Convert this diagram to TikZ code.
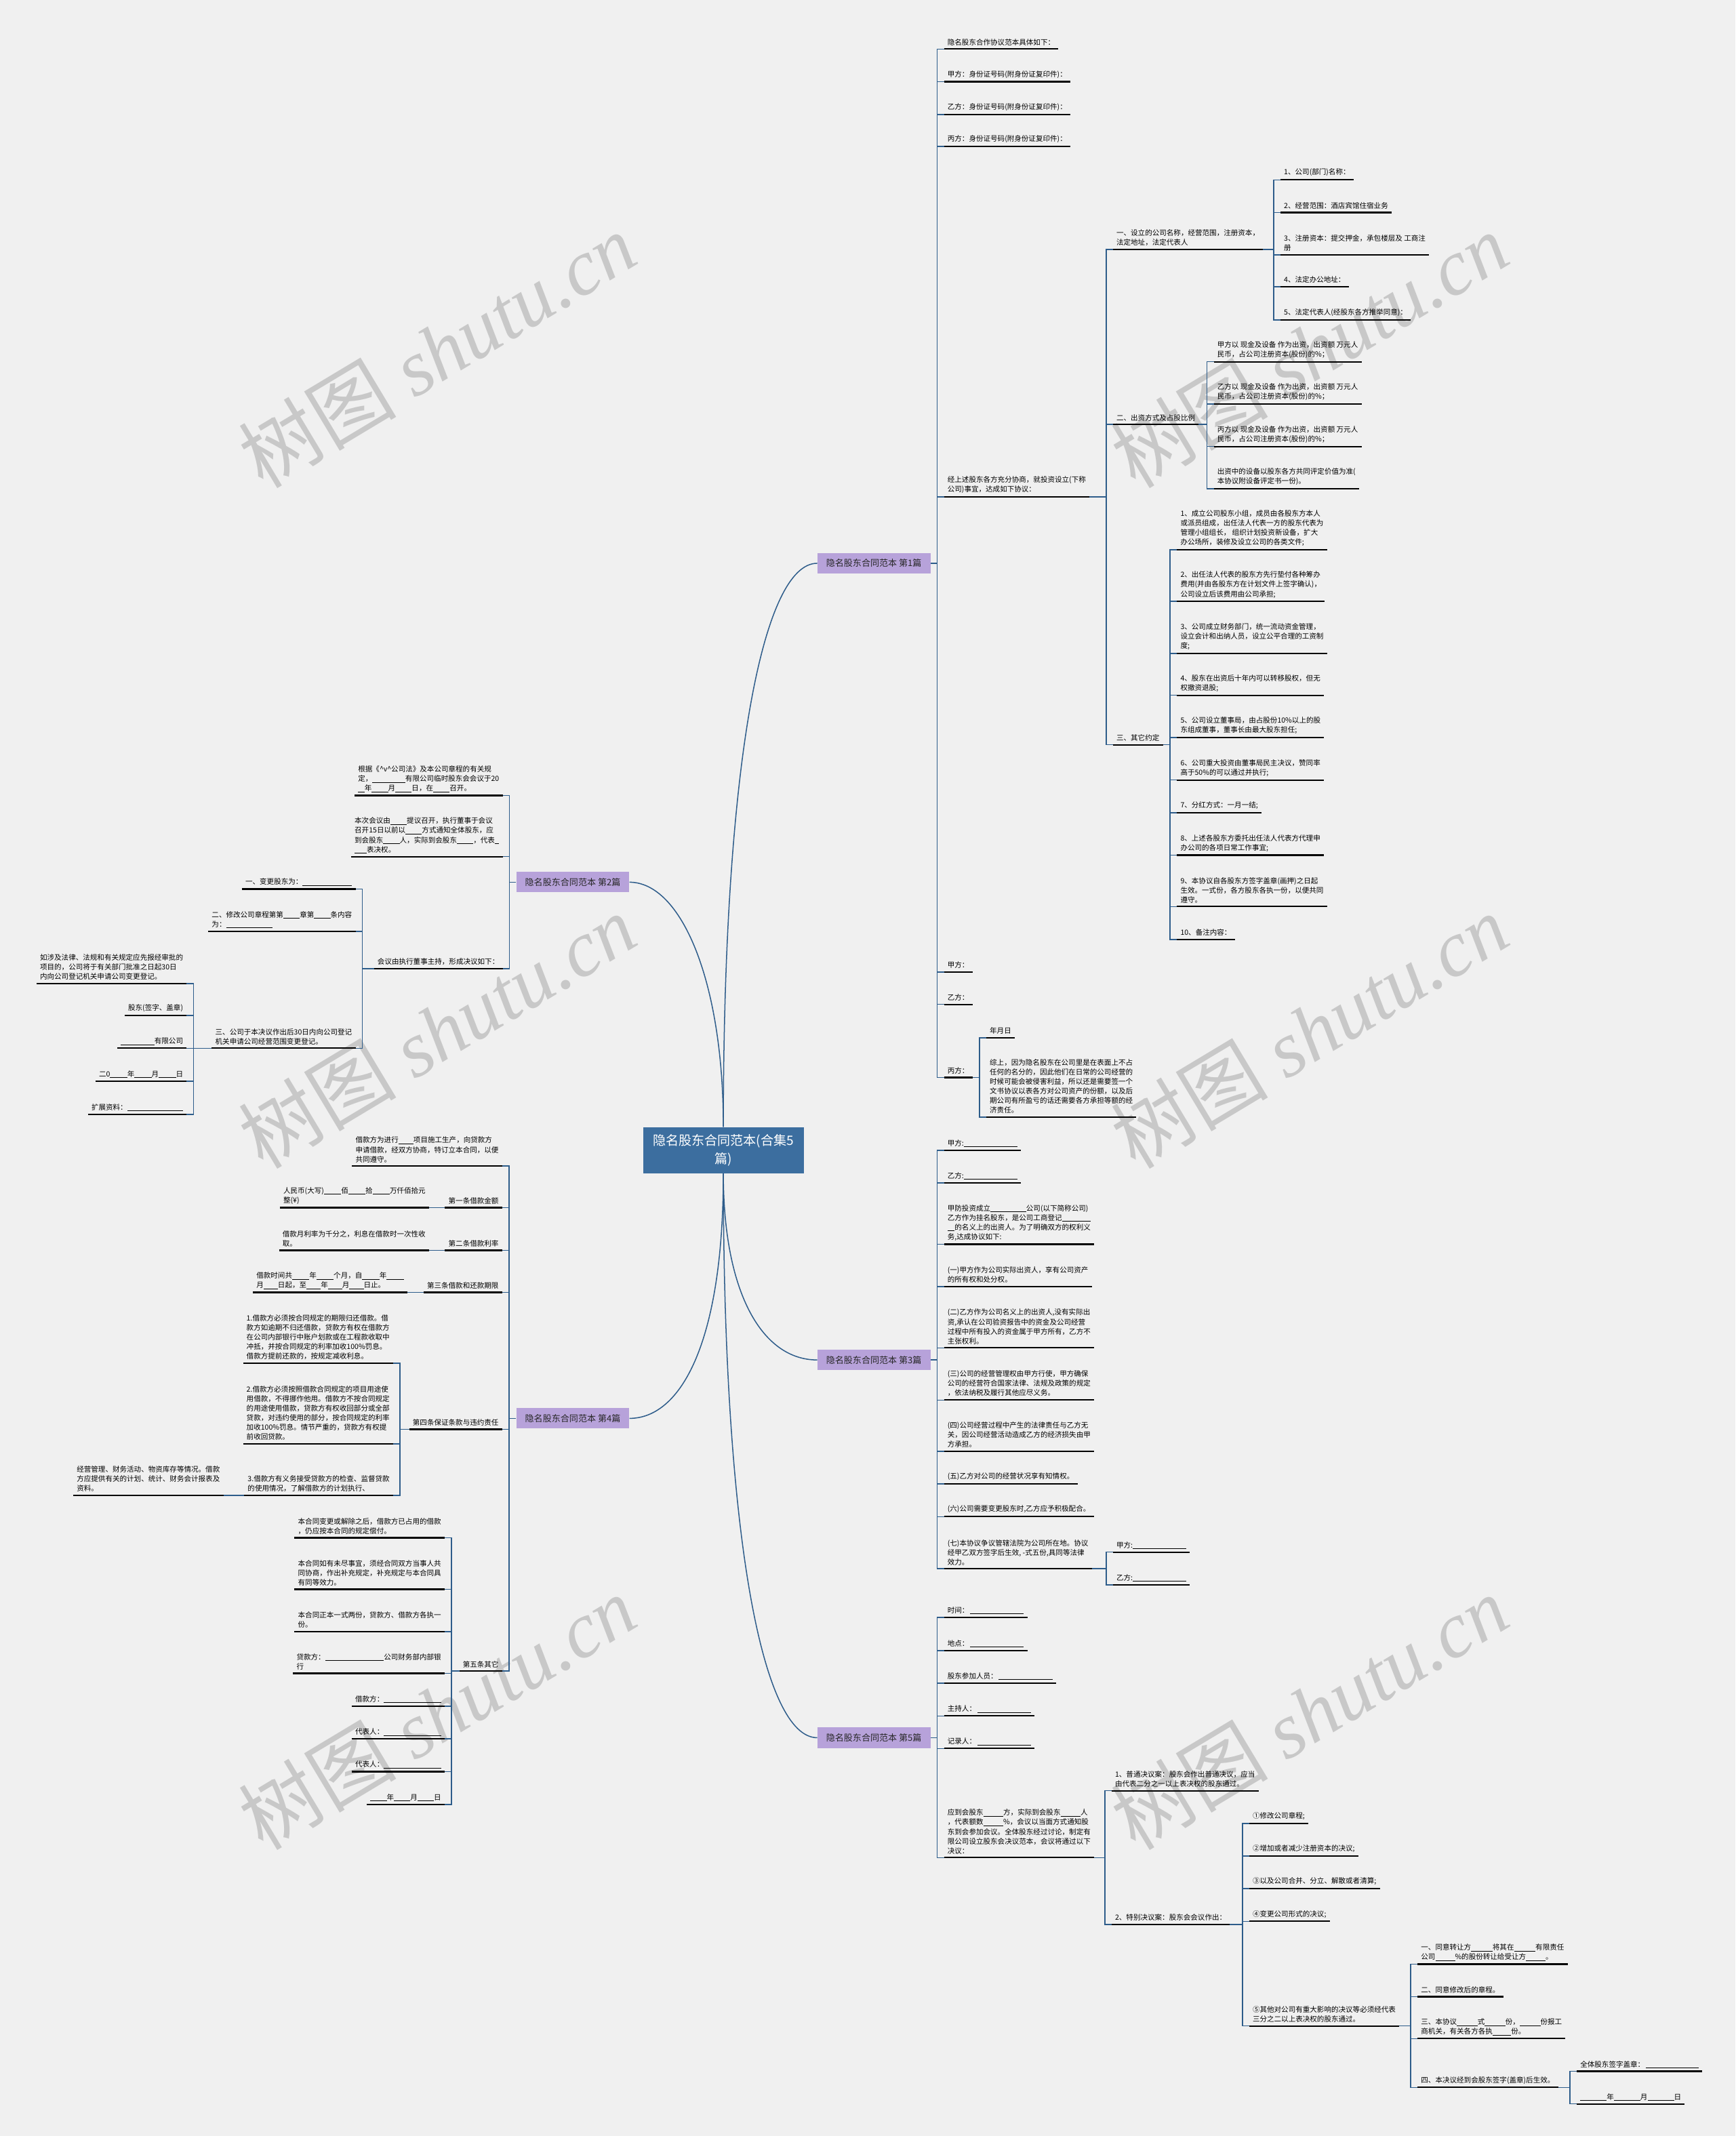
\documentclass[tikz,border=0pt]{standalone}
\usepackage{fontspec}
\setmainfont{Noto Sans CJK SC}
\newfontfamily\wmfont{Liberation Serif}
\usepackage{tikz}

\definecolor{bgcol}{HTML}{F0F0F0}
\definecolor{linkcol}{HTML}{2D5C8A}
\definecolor{rootcol}{HTML}{3C6E9F}
\definecolor{topiccol}{HTML}{B7A2DA}
\definecolor{wmcol}{HTML}{C8C8C8}
\newcommand{\bl}[1]{\rule[-1.3pt]{#1em}{0.5pt}}

\tikzset{
  uline/.style={draw=black, line width=2.2pt},
  link/.style={draw=linkcol, line width=1.5pt},
  leaf/.style={font=\fontsize{10.5pt}{14pt}\selectfont, align=left,
    inner xsep=5pt, inner ysep=5pt,
    append after command={(\tikzlastnode.south west) edge[uline] (\tikzlastnode.south east)}},
  rleaf/.style={leaf, anchor=south west},
  lleaf/.style={leaf, anchor=south east},
  topic/.style={fill=topiccol, text=black!85, inner sep=0pt,
    font=\fontsize{13pt}{16pt}\selectfont, minimum width=166pt, minimum height=30pt},
  rootbox/.style={fill=rootcol, text=white, align=center, inner sep=0pt,
    font=\fontsize{19pt}{27pt}\selectfont, minimum width=236pt, minimum height=68pt},
  wmark/.style={text=wmcol, rotate=31, font=\fontsize{116pt}{116pt}\selectfont}
}

\begin{document}
\begin{tikzpicture}[x=2pt, y=-2pt]
        \useasboundingbox (0,0) rectangle (1274,1568);
        \fill[bgcol] (0,0) rectangle (1274,1568);

        \node[wmark] (wm1) at (321,257) {树图 {\wmfont\itshape shutu.cn}};
        \node[wmark] (wm2) at (961,257) {树图 {\wmfont\itshape shutu.cn}};
        \node[wmark] (wm3) at (321,757) {树图 {\wmfont\itshape shutu.cn}};
        \node[wmark] (wm4) at (961,757) {树图 {\wmfont\itshape shutu.cn}};
        \node[wmark] (wm5) at (321,1257) {树图 {\wmfont\itshape shutu.cn}};
        \node[wmark] (wm6) at (961,1257) {树图 {\wmfont\itshape shutu.cn}};

        \node[rootbox] (R) at (531,844.3) {隐名股东合同范本(合集5\\篇)};
        \node[topic] (T1) at (641.5,413.5) {隐名股东合同范本 第1篇};
        \node[topic] (T2) at (420.5,647.6) {隐名股东合同范本 第2篇};
        \node[topic] (T3) at (641.5,998.3) {隐名股东合同范本 第3篇};
        \node[topic] (T4) at (420.5,1041.2) {隐名股东合同范本 第4篇};
        \node[topic] (T5) at (641.5,1275.6) {隐名股东合同范本 第5篇};

        \draw[link] (R.north) .. controls (531,560) and (560,413.5) .. (T1.west);
        \draw[link] (R.north) .. controls (531,720) and (500,647.6) .. (T2.east);
        \draw[link] (R.south) .. controls (531,950) and (560,998.3) .. (T3.west);
        \draw[link] (R.south) .. controls (531,985) and (500,1041.2) .. (T4.east);
        \draw[link] (R.south) .. controls (531,1130) and (560,1275.6) .. (T5.west);

        \node[rleaf] (T1a) at (693,36) {隐名股东合作协议范本具体如下：};
        \node[rleaf] (T1b) at (693,60) {甲方：身份证号码(附身份证复印件)：};
        \node[rleaf] (T1c) at (693,84) {乙方：身份证号码(附身份证复印件)：};
        \node[rleaf] (T1d) at (693,107.6) {丙方：身份证号码(附身份证复印件)：};
        \node[rleaf] (T1e) at (693,364.7) {经上述股东各方充分协商，就投资设立(下称\\公司)事宜，达成如下协议：};
        \node[rleaf] (T1f) at (693,713.5) {甲方：};
        \node[rleaf] (T1g) at (693,737.3) {乙方：};
        \node[rleaf] (T1h) at (693,791) {丙方：};

        \node[rleaf] (E1) at (817,183) {一、设立的公司名称，经营范围，注册资本，\\法定地址，法定代表人};
        \node[rleaf] (E2) at (817,311.6) {二、出资方式及占股比例};
        \node[rleaf] (E3) at (817,546.7) {三、其它约定};

        \node[rleaf] (E1a) at (940,132) {1、公司(部门)名称：};
        \node[rleaf] (E1b) at (940,156) {2、经营范围：酒店宾馆住宿业务};
        \node[rleaf] (E1c) at (940,187) {3、注册资本：提交押金，承包楼层及 工商注\\册};
        \node[rleaf] (E1d) at (940,210.5) {4、法定办公地址：};
        \node[rleaf] (E1e) at (940,235) {5、法定代表人(经股东各方推举同意)：};

        \node[rleaf] (E2a) at (891,265.6) {甲方以 现金及设备 作为出资，出资额 万元人\\民币，占公司注册资本(股份)的\%；};
        \node[rleaf] (E2b) at (891,296.7) {乙方以 现金及设备 作为出资，出资额 万元人\\民币，占公司注册资本(股份)的\%；};
        \node[rleaf] (E2c) at (891,327.8) {丙方以 现金及设备 作为出资，出资额 万元人\\民币，占公司注册资本(股份)的\%；};
        \node[rleaf] (E2d) at (891,358.9) {出资中的设备以股东各方共同评定价值为准(\\本协议附设备评定书一份)。};

        \node[rleaf] (E3a) at (864,403.6) {1、成立公司股东小组，成员由各股东方本人\\或派员组成，出任法人代表一方的股东代表为\\管理小组组长， 组织计划投资新设备，扩大\\办公场所，装修及设立公司的各类文件;};
        \node[rleaf] (E3b) at (864,441.5) {2、出任法人代表的股东方先行垫付各种筹办\\费用(并由各股东方在计划文件上签字确认)，\\公司设立后该费用由公司承担;};
        \node[rleaf] (E3c) at (864,479.7) {3、公司成立财务部门，统一流动资金管理，\\设立会计和出纳人员，设立公平合理的工资制\\度;};
        \node[rleaf] (E3d) at (864,510.4) {4、股东在出资后十年内可以转移股权，但无\\权撤资退股;};
        \node[rleaf] (E3e) at (864,541.5) {5、公司设立董事局，由占股份10\%以上的股\\东组成董事，董事长由最大股东担任;};
        \node[rleaf] (E3f) at (864,572.6) {6、公司重大投资由董事局民主决议，赞同率\\高于50\%的可以通过并执行;};
        \node[rleaf] (E3g) at (864,596.6) {7、分红方式：一月一结;};
        \node[rleaf] (E3h) at (864,627.7) {8、上述各股东方委托出任法人代表方代理申\\办公司的各项日常工作事宜;};
        \node[rleaf] (E3i) at (864,665.5) {9、本协议自各股东方签字盖章(画押)之日起\\生效。一式份，各方股东各执一份，以便共同\\遵守。};
        \node[rleaf] (E3j) at (864,689.7) {10、备注内容：};

        \node[rleaf] (H1) at (724,761.8) {年月日};
        \node[rleaf] (H2) at (724,820) {综上，因为隐名股东在公司里是在表面上不占\\任何的名分的，因此他们在日常的公司经营的\\时候可能会被侵害利益，所以还是需要签一个\\文书协议以表各方对公司资产的份额，以及后\\期公司有所盈亏的话还需要各方承担等额的经\\济责任。};

        \draw[link] (T1.east) -| ([xshift=-10pt]T1a.south west) -- (T1a.south west)
              (T1.east) -| ([xshift=-10pt]T1b.south west) -- (T1b.south west)
              (T1.east) -| ([xshift=-10pt]T1c.south west) -- (T1c.south west)
              (T1.east) -| ([xshift=-10pt]T1d.south west) -- (T1d.south west)
              (T1.east) -| ([xshift=-10pt]T1e.south west) -- (T1e.south west)
              (T1.east) -| ([xshift=-10pt]T1f.south west) -- (T1f.south west)
              (T1.east) -| ([xshift=-10pt]T1g.south west) -- (T1g.south west)
              (T1.east) -| ([xshift=-10pt]T1h.south west) -- (T1h.south west);
        \draw[link] (T1e.south east) -| ([xshift=-10pt]E1.south west) -- (E1.south west)
              (T1e.south east) -| ([xshift=-10pt]E2.south west) -- (E2.south west)
              (T1e.south east) -| ([xshift=-10pt]E3.south west) -- (E3.south west);
        \draw[link] (E1.south east) -| ([xshift=-10pt]E1a.south west) -- (E1a.south west)
              (E1.south east) -| ([xshift=-10pt]E1b.south west) -- (E1b.south west)
              (E1.south east) -| ([xshift=-10pt]E1c.south west) -- (E1c.south west)
              (E1.south east) -| ([xshift=-10pt]E1d.south west) -- (E1d.south west)
              (E1.south east) -| ([xshift=-10pt]E1e.south west) -- (E1e.south west);
        \draw[link] (E2.south east) -| ([xshift=-10pt]E2a.south west) -- (E2a.south west)
              (E2.south east) -| ([xshift=-10pt]E2b.south west) -- (E2b.south west)
              (E2.south east) -| ([xshift=-10pt]E2c.south west) -- (E2c.south west)
              (E2.south east) -| ([xshift=-10pt]E2d.south west) -- (E2d.south west);
        \draw[link] (E3.south east) -| ([xshift=-10pt]E3a.south west) -- (E3a.south west)
              (E3.south east) -| ([xshift=-10pt]E3b.south west) -- (E3b.south west)
              (E3.south east) -| ([xshift=-10pt]E3c.south west) -- (E3c.south west)
              (E3.south east) -| ([xshift=-10pt]E3d.south west) -- (E3d.south west)
              (E3.south east) -| ([xshift=-10pt]E3e.south west) -- (E3e.south west)
              (E3.south east) -| ([xshift=-10pt]E3f.south west) -- (E3f.south west)
              (E3.south east) -| ([xshift=-10pt]E3g.south west) -- (E3g.south west)
              (E3.south east) -| ([xshift=-10pt]E3h.south west) -- (E3h.south west)
              (E3.south east) -| ([xshift=-10pt]E3i.south west) -- (E3i.south west)
              (E3.south east) -| ([xshift=-10pt]E3j.south west) -- (E3j.south west);
        \draw[link] (T1h.south east) -| ([xshift=-10pt]H1.south west) -- (H1.south west)
              (T1h.south east) -| ([xshift=-10pt]H2.south west) -- (H2.south west);

        \node[lleaf] (T2a) at (369,583.9) {根据《\textasciicircum v\textasciicircum 公司法》及本公司章程的有关规\\定，\bl{4.6}有限公司临时股东会会议于20\\\bl{0.9}年\bl{2.3}月\bl{2.3}日，在\bl{2.3}召开。};
        \node[lleaf] (T2b) at (369,628.8) {本次会议由\bl{2.3}提议召开，执行董事于会议\\召开15日以前以\bl{2.3}方式通知全体股东，应\\到会股东\bl{2.3}人，实际到会股东\bl{2.3}，代表\bl{0.6}\\\bl{1.7}表决权。};
        \node[lleaf] (T2c) at (369,711.1) {会议由执行董事主持，形成决议如下：};

        \node[lleaf] (C1) at (261,652.6) {一、变更股东为：\bl{6.9}};
        \node[lleaf] (C2) at (261,683.8) {二、修改公司章程第第\bl{2.3}章第\bl{2.3}条内容\\为：\bl{6.5}};
        \node[lleaf] (C3) at (261,769.5) {三、公司于本决议作出后30日内向公司登记\\机关申请公司经营范围变更登记。};

        \node[lleaf] (C3a) at (137,722) {如涉及法律、法规和有关规定应先报经审批的\\项目的，公司将于有关部门批准之日起30日\\内向公司登记机关申请公司变更登记。};
        \node[lleaf] (C3b) at (137,745.5) {股东(签字、盖章)};
        \node[lleaf] (C3c) at (137,769.5) {\bl{4.7}有限公司};
        \node[lleaf] (C3d) at (137,793.8) {二0\bl{2.4}年\bl{2.4}月\bl{2.4}日};
        \node[lleaf] (C3e) at (137,818) {扩展资料：\bl{7.8}};

        \draw[link] (T2.west) -| ([xshift=10pt]T2a.south east) -- (T2a.south east)
              (T2.west) -| ([xshift=10pt]T2b.south east) -- (T2b.south east)
              (T2.west) -| ([xshift=10pt]T2c.south east) -- (T2c.south east);
        \draw[link] (T2c.south west) -| ([xshift=10pt]C1.south east) -- (C1.south east)
              (T2c.south west) -| ([xshift=10pt]C2.south east) -- (C2.south east)
              (T2c.south west) -| ([xshift=10pt]C3.south east) -- (C3.south east);
        \draw[link] (C3.south west) -| ([xshift=10pt]C3a.south east) -- (C3a.south east)
              (C3.south west) -| ([xshift=10pt]C3b.south east) -- (C3b.south east)
              (C3.south west) -| ([xshift=10pt]C3c.south east) -- (C3c.south east)
              (C3.south west) -| ([xshift=10pt]C3d.south east) -- (C3d.south east)
              (C3.south west) -| ([xshift=10pt]C3e.south east) -- (C3e.south east);

        \node[lleaf] (T4a) at (368.6,856) {借款方为进行\bl{2.1}项目施工生产，向贷款方\\申请借款，经双方协商，特订立本合同，以便\\共同遵守。};
        \node[lleaf] (T4b) at (368.6,886.5) {第一条借款金额};
        \node[lleaf] (T4c) at (368.6,917.8) {第二条借款利率};
        \node[lleaf] (T4d) at (368.6,948.7) {第三条借款和还款期限};
        \node[lleaf] (T4e) at (368.6,1049.2) {第四条保证条款与违约责任};
        \node[lleaf] (T4f) at (368.6,1226.7) {第五条其它};

        \node[lleaf] (B1) at (315,886.5) {人民币(大写)\bl{2.4}佰\bl{2.4}拾\bl{2.4}万仟佰拾元\\整(¥)};
        \node[lleaf] (B2) at (315,917.8) {借款月利率为千分之，利息在借款时一次性收\\取。};
        \node[lleaf] (B3) at (299,948.7) {借款时间共\bl{2.4}年\bl{2.4}个月，自\bl{2.4}年\bl{2.4}\\月\bl{2}日起，至\bl{2}年\bl{2}月\bl{2}日止。};

        \node[lleaf] (D1) at (288.6,1000.8) {1.借款方必须按合同规定的期限归还借款。借\\款方如逾期不归还借款，贷款方有权在借款方\\在公司内部银行中账户划款或在工程款收取中\\冲抵，并按合同规定的利率加收100\%罚息。\\借款方提前还款的，按规定减收利息。};
        \node[lleaf] (D2) at (288.6,1059.8) {2.借款方必须按照借款合同规定的项目用途使\\用借款，不得挪作他用。借款方不按合同规定\\的用途使用借款，贷款方有权收回部分或全部\\贷款，对违约使用的部分，按合同规定的利率\\加收100\%罚息。情节严重的，贷款方有权提\\前收回贷款。};
        \node[lleaf] (D3) at (288.6,1097.7) {3.借款方有义务接受贷款方的检查、监督贷款\\的使用情况，了解借款方的计划执行、};
        \node[lleaf] (D3a) at (164,1097.7) {经营管理、财务活动、物资库存等情况。借款\\方应提供有关的计划、统计、财务会计报表及\\资料。};

        \node[lleaf] (F1) at (326.4,1128.8) {本合同变更或解除之后，借款方已占用的借款\\，仍应按本合同的规定偿付。};
        \node[lleaf] (F2) at (326.4,1166.7) {本合同如有未尽事宜，须经合同双方当事人共\\同协商，作出补充规定，补充规定与本合同具\\有同等效力。};
        \node[lleaf] (F3) at (326.4,1197.7) {本合同正本一式两份，贷款方、借款方各执一\\份。};
        \node[lleaf] (F4) at (326.4,1228.4) {贷款方：\bl{8.2}公司财务部内部银\\行};
        \node[lleaf] (F5) at (326.4,1252.4) {借款方：\bl{8}};
        \node[lleaf] (F6) at (326.4,1276.5) {代表人：\bl{8}};
        \node[lleaf] (F7) at (326.4,1300.5) {代表人：\bl{8}};
        \node[lleaf] (F8) at (326.4,1324.6) {\bl{2.3}年\bl{2.3}月\bl{2.3}日};

        \draw[link] (T4.west) -| ([xshift=10pt]T4a.south east) -- (T4a.south east)
              (T4.west) -| ([xshift=10pt]T4b.south east) -- (T4b.south east)
              (T4.west) -| ([xshift=10pt]T4c.south east) -- (T4c.south east)
              (T4.west) -| ([xshift=10pt]T4d.south east) -- (T4d.south east)
              (T4.west) -| ([xshift=10pt]T4e.south east) -- (T4e.south east)
              (T4.west) -| ([xshift=10pt]T4f.south east) -- (T4f.south east);
        \draw[link] (T4b.south west) -- (B1.south east)
              (T4c.south west) -- (B2.south east)
              (T4d.south west) -- (B3.south east)
              (D3.south west) -- (D3a.south east);
        \draw[link] (T4e.south west) -| ([xshift=10pt]D1.south east) -- (D1.south east)
              (T4e.south west) -| ([xshift=10pt]D2.south east) -- (D2.south east)
              (T4e.south west) -| ([xshift=10pt]D3.south east) -- (D3.south east);
        \draw[link] (T4f.south west) -| ([xshift=10pt]F1.south east) -- (F1.south east)
              (T4f.south west) -| ([xshift=10pt]F2.south east) -- (F2.south east)
              (T4f.south west) -| ([xshift=10pt]F3.south east) -- (F3.south east)
              (T4f.south west) -| ([xshift=10pt]F4.south east) -- (F4.south east)
              (T4f.south west) -| ([xshift=10pt]F5.south east) -- (F5.south east)
              (T4f.south west) -| ([xshift=10pt]F6.south east) -- (F6.south east)
              (T4f.south west) -| ([xshift=10pt]F7.south east) -- (F7.south east)
              (T4f.south west) -| ([xshift=10pt]F8.south east) -- (F8.south east);

        \node[rleaf] (T3a) at (693,844.5) {甲方:\bl{7.5}};
        \node[rleaf] (T3b) at (693,868.3) {乙方:\bl{7.5}};
        \node[rleaf] (T3c) at (693,913.4) {甲防投资成立\bl{5}公司(以下简称公司)\\乙方作为挂名股东，是公司工商登记\bl{4}\\\bl{1}的名义上的出资人。为了明确双方的权利义\\务,达成协议如下:};
        \node[rleaf] (T3d) at (693,944.5) {(一)甲方作为公司实际出资人，享有公司资产\\的所有权和处分权。};
        \node[rleaf] (T3e) at (693,989.4) {(二)乙方作为公司名义上的出资人,没有实际出\\资,承认在公司验资报告中的资金及公司经营\\过程中所有投入的资金属于甲方所有，乙方不\\主张权利。};
        \node[rleaf] (T3f) at (693,1027.7) {(三)公司的经营管理权由甲方行使，甲方确保\\公司的经营符合国家法律、法规及政策的规定\\，依法纳税及履行其他应尽义务。};
        \node[rleaf] (T3g) at (693,1065.4) {(四)公司经营过程中产生的法律责任与乙方无\\关，因公司经营活动造成乙方的经济损失由甲\\方承担。};
        \node[rleaf] (T3h) at (693,1089.4) {(五)乙方对公司的经营状况享有知情权。};
        \node[rleaf] (T3i) at (693,1113.3) {(六)公司需要变更股东时,乙方应予积极配合。};
        \node[rleaf] (T3j) at (693,1151.6) {(七)本协议争议管辖法院为公司所在地。协议\\经甲乙双方签字后生效, -式五份,具同等法律\\效力。};
        \node[rleaf] (J1) at (817,1139.4) {甲方:\bl{7.5}};
        \node[rleaf] (J2) at (817,1163.4) {乙方:\bl{7.5}};

        \draw[link] (T3.east) -| ([xshift=-10pt]T3a.south west) -- (T3a.south west)
              (T3.east) -| ([xshift=-10pt]T3b.south west) -- (T3b.south west)
              (T3.east) -| ([xshift=-10pt]T3c.south west) -- (T3c.south west)
              (T3.east) -| ([xshift=-10pt]T3d.south west) -- (T3d.south west)
              (T3.east) -| ([xshift=-10pt]T3e.south west) -- (T3e.south west)
              (T3.east) -| ([xshift=-10pt]T3f.south west) -- (T3f.south west)
              (T3.east) -| ([xshift=-10pt]T3g.south west) -- (T3g.south west)
              (T3.east) -| ([xshift=-10pt]T3h.south west) -- (T3h.south west)
              (T3.east) -| ([xshift=-10pt]T3i.south west) -- (T3i.south west)
              (T3.east) -| ([xshift=-10pt]T3j.south west) -- (T3j.south west);
        \draw[link] (T3j.south east) -| ([xshift=-10pt]J1.south west) -- (J1.south west)
              (T3j.south east) -| ([xshift=-10pt]J2.south west) -- (J2.south west);

        \node[rleaf] (T5a) at (693,1187.4) {时间：\,\bl{7.5}};
        \node[rleaf] (T5b) at (693,1211.6) {地点：\,\bl{7.5}};
        \node[rleaf] (T5c) at (693,1235.5) {股东参加人员：\,\bl{7.5}};
        \node[rleaf] (T5d) at (693,1259.6) {主持人：\,\bl{7.5}};
        \node[rleaf] (T5e) at (693,1283.5) {记录人：\,\bl{7.5}};
        \node[rleaf] (T5f) at (693,1363.6) {应到会股东\bl{2.8}方，实际到会股东\bl{2.8}人\\，代表额数\bl{2.8}\%，会议以当面方式通知股\\东到会参加会议。全体股东经过讨论，制定有\\限公司设立股东会决议范本，会议将通过以下\\决议：};

        \node[rleaf] (U1) at (816,1314.5) {1、普通决议案：股东会作出普通决议，应当\\由代表二分之一以上表决权的股东通过。};
        \node[rleaf] (U2) at (816,1412.6) {2、特别决议案：股东会会议作出：};

        \node[rleaf] (V1) at (917,1338.6) {①修改公司章程;};
        \node[rleaf] (V2) at (917,1362.5) {②增加或者减少注册资本的决议;};
        \node[rleaf] (V3) at (917,1386.4) {③以及公司合并、分立、解散或者清算;};
        \node[rleaf] (V4) at (917,1410.4) {④变更公司形式的决议;};
        \node[rleaf] (V5) at (917,1487.2) {⑤其他对公司有重大影响的决议等必须经代表\\三分之二以上表决权的股东通过。};

        \node[rleaf] (W1) at (1040.6,1441.8) {一、同意转让方\bl{3}将其在\bl{3}有限责任\\公司\bl{2.75}\%的股份转让给受让方\bl{2.75}。};
        \node[rleaf] (W2) at (1040.6,1465.7) {二、同意修改后的章程。};
        \node[rleaf] (W3) at (1040.6,1496.5) {三、本协议\bl{2.9}式\bl{2.9}份，\bl{2.9}份报工\\商机关，有关各方各执\bl{2.6}份。};
        \node[rleaf] (W4) at (1040.6,1532.3) {四、本决议经到会股东签字(盖章)后生效。};

        \node[rleaf] (X1) at (1157.5,1520.5) {全体股东签字盖章：\,\bl{7.4}};
        \node[rleaf] (X2) at (1157.5,1544.4) {\bl{3.7}年\bl{3.7}月\bl{3.7}日};

        \draw[link] (T5.east) -| ([xshift=-10pt]T5a.south west) -- (T5a.south west)
              (T5.east) -| ([xshift=-10pt]T5b.south west) -- (T5b.south west)
              (T5.east) -| ([xshift=-10pt]T5c.south west) -- (T5c.south west)
              (T5.east) -| ([xshift=-10pt]T5d.south west) -- (T5d.south west)
              (T5.east) -| ([xshift=-10pt]T5e.south west) -- (T5e.south west)
              (T5.east) -| ([xshift=-10pt]T5f.south west) -- (T5f.south west);
        \draw[link] (T5f.south east) -| ([xshift=-10pt]U1.south west) -- (U1.south west)
              (T5f.south east) -| ([xshift=-10pt]U2.south west) -- (U2.south west);
        \draw[link] (U2.south east) -| ([xshift=-10pt]V1.south west) -- (V1.south west)
              (U2.south east) -| ([xshift=-10pt]V2.south west) -- (V2.south west)
              (U2.south east) -| ([xshift=-10pt]V3.south west) -- (V3.south west)
              (U2.south east) -| ([xshift=-10pt]V4.south west) -- (V4.south west)
              (U2.south east) -| ([xshift=-10pt]V5.south west) -- (V5.south west);
        \draw[link] (V5.south east) -| ([xshift=-10pt]W1.south west) -- (W1.south west)
              (V5.south east) -| ([xshift=-10pt]W2.south west) -- (W2.south west)
              (V5.south east) -| ([xshift=-10pt]W3.south west) -- (W3.south west)
              (V5.south east) -| ([xshift=-10pt]W4.south west) -- (W4.south west);
        \draw[link] (W4.south east) -| ([xshift=-10pt]X1.south west) -- (X1.south west)
              (W4.south east) -| ([xshift=-10pt]X2.south west) -- (X2.south west);
\end{tikzpicture}
\end{document}
